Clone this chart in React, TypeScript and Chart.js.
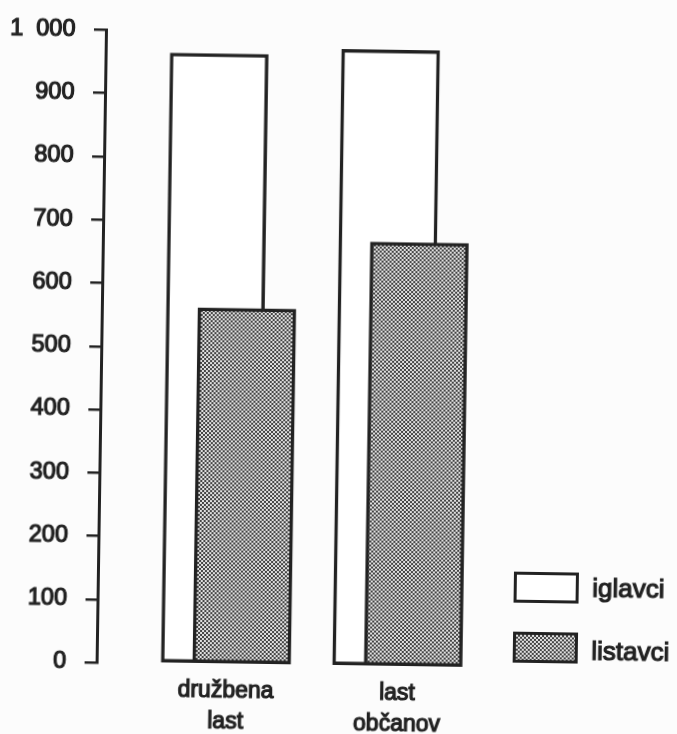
import React, { useEffect, useRef } from 'react';
import { Chart, registerables } from 'chart.js';

Chart.register(...registerables);

// ---- data ----
const CATEGORIES: string[][] = [
  ['družbena', 'last'],
  ['last', 'občanov'],
];
const SERIES_NAMES: string[] = ['iglavci', 'listavci'];
const IGLAVCI: number[] = [965, 975];
const LISTAVCI: number[] = [563, 671];
const Y_TICKS: number[] = [0, 100, 200, 300, 400, 500, 600, 700, 800, 900, 1000];
const Y_TICK_LABELS: string[] = ['0', '100', '200', '300', '400', '500', '600', '700', '800', '900', '1\u2007000'];

// ---- layout / style ----
const CATEGORY_POS = [1, 2];
const SERIES_SHIFT = 0.092;
const INK = '#222222';
const LIGHT = '#e0e0e0';
const DARK = '#444444';
const FONT = "'Liberation Sans', Arial, sans-serif";
const TEXT_STROKE = 1.2;
const W = 677;
const H = 760;
const ROT = 0.85;
const AREA_LEFT = 101;
const AREA_TOP = 33.5;
const AREA_BOTTOM = 666;
const PAD_RIGHT = 189.5;

function makePattern(): CanvasPattern | string {
  const c = document.createElement('canvas');
  c.width = 4;
  c.height = 4;
  const g = c.getContext('2d');
  if (!g) return '#999';
  g.fillStyle = LIGHT;
  g.fillRect(0, 0, 4, 4);
  g.fillStyle = DARK;
  g.fillRect(0, 0, 2, 2);
  g.fillRect(2, 2, 2, 2);
  return g.createPattern(c, 'repeat') || '#999';
}

const checker = {
  backgroundColor: LIGHT,
  backgroundImage: `repeating-conic-gradient(${DARK} 0% 25%, ${LIGHT} 0% 50%)`,
  backgroundSize: '4px 4px',
};

export default function App() {
  const ref = useRef<HTMLCanvasElement | null>(null);

  useEffect(() => {
    if (!ref.current) return;
    const pattern = makePattern();
    const chart = new Chart(ref.current, {
      type: 'bar',
      data: {
        datasets: [
          {
            label: SERIES_NAMES[0],
            data: CATEGORY_POS.map((p, i) => ({ x: p - SERIES_SHIFT, y: IGLAVCI[i] })),
            backgroundColor: '#ffffff',
            borderColor: INK,
            borderWidth: 3.5,
            borderSkipped: false,
            barThickness: 98,
            grouped: false,
            order: 1,
          } as any,
          {
            label: SERIES_NAMES[1],
            data: CATEGORY_POS.map((p, i) => ({ x: p + SERIES_SHIFT, y: LISTAVCI[i] })),
            backgroundColor: pattern,
            borderColor: INK,
            borderWidth: 3.5,
            borderSkipped: false,
            barThickness: 98,
            grouped: false,
            order: 0,
          } as any,
        ],
      },
      options: {
        animation: false,
        responsive: false,
        maintainAspectRatio: false,
        layout: { padding: { left: 0, right: PAD_RIGHT, top: AREA_TOP, bottom: 0 } },
        plugins: { legend: { display: false }, tooltip: { enabled: false } },
        scales: {
          x: {
            type: 'linear',
            offset: false,
            min: 0.2453,
            max: 2.5,
            grid: { display: false, drawTicks: false, offset: false },
            border: { display: false },
            afterBuildTicks: (s: any) => {
              s.ticks = CATEGORY_POS.map((v) => ({ value: v }));
            },
            afterFit: (s: any) => {
              s.height = H - AREA_BOTTOM;
              s.paddingLeft = 0;
              s.paddingRight = 0;
            },
            ticks: {
              autoSkip: false,
              maxRotation: 0,
              padding: 11,
              color: INK,
              textStrokeColor: INK,
              textStrokeWidth: TEXT_STROKE,
              font: { family: FONT, size: 23, weight: 'normal', lineHeight: '31px' },
              callback: (_v: any, i: number) => CATEGORIES[i],
            },
          },
          y: {
            type: 'linear',
            min: 0,
            max: 1000,
            afterBuildTicks: (s: any) => {
              s.ticks = Y_TICKS.map((v) => ({ value: v }));
            },
            afterFit: (s: any) => {
              s.width = AREA_LEFT;
              s.paddingTop = 0;
              s.paddingBottom = 0;
            },
            grid: { drawOnChartArea: false, drawTicks: true, tickLength: 12, color: INK, lineWidth: 2.5 },
            border: { display: true, color: INK, width: 3 },
            ticks: {
              padding: 18.5,
              color: INK,
              textStrokeColor: INK,
              textStrokeWidth: TEXT_STROKE,
              font: { family: FONT, size: 23.5, weight: 'normal' },
              callback: (_v: any, i: number) => Y_TICK_LABELS[i],
            },
          },
        },
      } as any,
    });
    return () => chart.destroy();
  }, []);

  const boxBase: React.CSSProperties = {
    position: 'absolute',
    left: 516.5,
    width: 65,
    height: 31,
    boxSizing: 'border-box',
    border: `3.5px solid ${INK}`,
  };
  const textBase: React.CSSProperties = {
    position: 'absolute',
    left: 595.5,
    fontFamily: FONT,
    fontWeight: 'normal',
    fontSize: 26,
    lineHeight: '26px',
    color: INK,
    WebkitTextStroke: `${TEXT_STROKE}px ${INK}`,
    whiteSpace: 'nowrap',
  };

  return (
    <div style={{ position: 'absolute', left: 0, top: 0, width: 677, height: 734, overflow: 'hidden', background: '#fcfcfc' }}>
      <div
        style={{
          position: 'absolute',
          left: 0,
          top: 0,
          width: W,
          height: H,
          transform: `rotate(${ROT}deg)`,
          transformOrigin: '338.5px 367px',
        }}
      >
        <canvas ref={ref} width={W} height={H} style={{ display: 'block', width: W, height: H }} />
        <div style={{ ...boxBase, top: 568.5, background: '#ffffff' }} />
        <div style={{ ...textBase, top: 570.7 }}>{SERIES_NAMES[0]}</div>
        <div style={{ ...boxBase, top: 629, ...checker }} />
        <div style={{ ...textBase, top: 633.7 }}>{SERIES_NAMES[1]}</div>
      </div>
    </div>
  );
}
